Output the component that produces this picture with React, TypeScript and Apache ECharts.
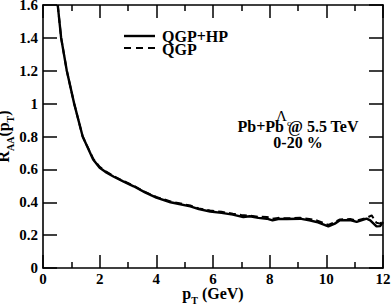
import React, { useEffect, useRef } from "react";
import * as echarts from "echarts";

const ptSolid = [0.52, 0.64, 0.84, 1.1, 1.4, 1.77, 2.0, 2.2, 2.5, 2.83, 3.2, 3.6, 4.0, 4.5, 5.2, 5.5, 5.9, 6.3, 6.7, 7.07, 7.3, 7.6, 7.9, 8.1, 8.3, 8.6, 9.07, 9.4, 9.66, 10.07, 10.3, 10.48, 10.84, 11.07, 11.42, 11.55, 11.77, 11.9, 12.0];
const rSolid = [1.6, 1.4, 1.2, 1.0, 0.8, 0.66, 0.61, 0.585, 0.555, 0.527, 0.497, 0.46, 0.428, 0.4, 0.375, 0.358, 0.344, 0.335, 0.325, 0.31, 0.315, 0.305, 0.3, 0.29, 0.298, 0.298, 0.3, 0.29, 0.28, 0.253, 0.27, 0.29, 0.292, 0.28, 0.3, 0.29, 0.253, 0.255, 0.28];

const ptDashed = [0.52, 0.64, 0.84, 1.1, 1.4, 1.77, 2.0, 2.2, 2.5, 2.83, 3.2, 3.6, 4.0, 4.5, 5.2, 5.5, 5.9, 6.3, 6.7, 7.0, 7.3, 7.6, 7.9, 8.1, 8.3, 8.6, 9.07, 9.4, 9.66, 10.07, 10.3, 10.48, 10.84, 11.07, 11.42, 11.6, 11.77, 11.9, 12.0];
const rDashed = [1.6, 1.4, 1.2, 1.0, 0.8, 0.665, 0.615, 0.59, 0.558, 0.53, 0.5, 0.463, 0.432, 0.405, 0.38, 0.362, 0.35, 0.342, 0.33, 0.322, 0.318, 0.312, 0.31, 0.3, 0.305, 0.302, 0.305, 0.298, 0.29, 0.262, 0.28, 0.295, 0.298, 0.288, 0.305, 0.32, 0.275, 0.27, 0.29];

const xTicks = ["0", "2", "4", "6", "8", "10", "12"];
const yTicks = ["0", "0.2", "0.4", "0.6", "0.8", "1", "1.2", "1.4", "1.6"];

const legendNames = ["QGP+HP", "QGP"];
const annotation = ["Pb+Pb @ 5.5 TeV", "0-20 %"];

const FONT = "'Liberation Serif', 'Times New Roman', serif";

export default function App() {
  const ref = useRef<HTMLDivElement>(null);
  useEffect(() => {
    const chart = echarts.init(ref.current!, null, { renderer: "svg" });
    const axisLine = { show: true, onZero: false, lineStyle: { color: "#000", width: 1.6 } };
    const tickStyle = { color: "#000", width: 1.5 };
    const labelStyle = { color: "#000", fontFamily: FONT, fontWeight: "bold" as const, fontSize: 15 };
    const textStyle = { fontFamily: FONT, fontWeight: "bold", fontSize: 16, fill: "#000", verticalAlign: "middle" };
    chart.setOption({
      animation: false,
      backgroundColor: "#fff",
      grid: { left: 43, right: 8, top: 5, bottom: 36, outerBoundsMode: "none", containLabel: false },
      legend: { show: false },
      xAxis: [
        {
          type: "value",
          min: 0,
          max: 12,
          interval: 2,
          position: "bottom",
          axisLine,
          axisTick: { show: true, inside: true, length: 13, lineStyle: tickStyle },
          minorTick: { show: true, splitNumber: 2, length: 6, lineStyle: tickStyle },
          splitLine: { show: false },
          axisLabel: {
            ...labelStyle,
            margin: 3,
            formatter: (v: number) => xTicks[Math.round(v / 2)] ?? "",
          },
          name: "{r|p}{s|T}{r| (GeV)}",
          nameLocation: "middle",
          nameGap: 15,
          nameMoveOverlap: false,
          nameTextStyle: {
            rich: {
              r: { fontFamily: FONT, fontWeight: "bold", fontSize: 16, color: "#000", lineHeight: 18, verticalAlign: "bottom" },
              s: { fontFamily: FONT, fontWeight: "bold", fontSize: 10, color: "#000", lineHeight: 18, verticalAlign: "bottom", padding: [0, 0, -4, 0] },
            },
          },
        },
        {
          type: "value",
          min: 0,
          max: 12,
          interval: 2,
          position: "top",
          axisLine,
          axisTick: { show: true, inside: true, length: 13, lineStyle: tickStyle },
          minorTick: { show: true, splitNumber: 2, length: 6, lineStyle: tickStyle },
          splitLine: { show: false },
          axisLabel: { show: false },
        },
      ],
      yAxis: [
        {
          type: "value",
          min: 0,
          max: 1.6,
          interval: 0.2,
          position: "left",
          axisLine,
          axisTick: { show: true, inside: true, length: 14, lineStyle: tickStyle },
          splitLine: { show: false },
          axisLabel: {
            ...labelStyle,
            margin: 5,
            formatter: (v: number) => yTicks[Math.round(v / 0.2)] ?? "",
          },
          name: "{r|R}{s|AA}{r|(p}{s|T}{r|)}",
          nameLocation: "middle",
          nameRotate: 90,
          nameGap: 32,
          nameMoveOverlap: false,
          nameTextStyle: {
            rich: {
              r: { fontFamily: FONT, fontWeight: "bold", fontSize: 16, color: "#000", lineHeight: 18, verticalAlign: "bottom" },
              s: { fontFamily: FONT, fontWeight: "bold", fontSize: 10, color: "#000", lineHeight: 18, verticalAlign: "bottom", padding: [0, 0, -4, 0] },
            },
          },
        },
        {
          type: "value",
          min: 0,
          max: 1.6,
          interval: 0.2,
          position: "right",
          axisLine,
          axisTick: { show: true, inside: true, length: 14, lineStyle: tickStyle },
          splitLine: { show: false },
          axisLabel: { show: false },
        },
      ],
      series: [
        {
          name: legendNames[0],
          type: "line",
          showSymbol: false,
          symbol: "none",
          clip: true,
          data: ptSolid.map((x, i) => [x, rSolid[i]]),
          lineStyle: { color: "#000", width: 2.4, type: "solid" },
          itemStyle: { color: "#000" },
        },
        {
          name: legendNames[1],
          type: "line",
          showSymbol: false,
          symbol: "none",
          clip: true,
          data: ptDashed.map((x, i) => [x, rDashed[i]]),
          lineStyle: { color: "#000", width: 2, type: [7, 4] },
          itemStyle: { color: "#000" },
        },
      ],
      graphic: [
        { type: "line", shape: { x1: 124, y1: 36, x2: 155, y2: 36 }, style: { stroke: "#000", lineWidth: 2.4 } },
        { type: "line", shape: { x1: 124, y1: 48, x2: 155, y2: 48 }, style: { stroke: "#000", lineWidth: 2, lineDash: [7, 5] } },
        { type: "text", x: 162, y: 36, style: { ...textStyle, text: legendNames[0] } },
        { type: "text", x: 162, y: 49, style: { ...textStyle, text: legendNames[1] } },
        {
          type: "text",
          x: 276,
          y: 107,
          style: {
            text: "{r|Λ}{s|c}",
            rich: {
              r: { fontFamily: FONT, fontSize: 15, fill: "#000", lineHeight: 16, verticalAlign: "bottom" },
              s: { fontFamily: FONT, fontSize: 9, fill: "#000", lineHeight: 16, verticalAlign: "bottom", padding: [0, 0, -4, 0] },
            },
          },
        },
        {
          type: "text",
          x: 298,
          y: 126,
          style: { ...textStyle, text: annotation[0], align: "center" },
        },
        {
          type: "text",
          x: 298,
          y: 142,
          style: { ...textStyle, text: annotation[1], align: "center" },
        },
      ],
    });
    return () => chart.dispose();
  }, []);
  return <div ref={ref} style={{ position: "fixed", left: 0, top: 0, width: 391, height: 304 }} />;
}
